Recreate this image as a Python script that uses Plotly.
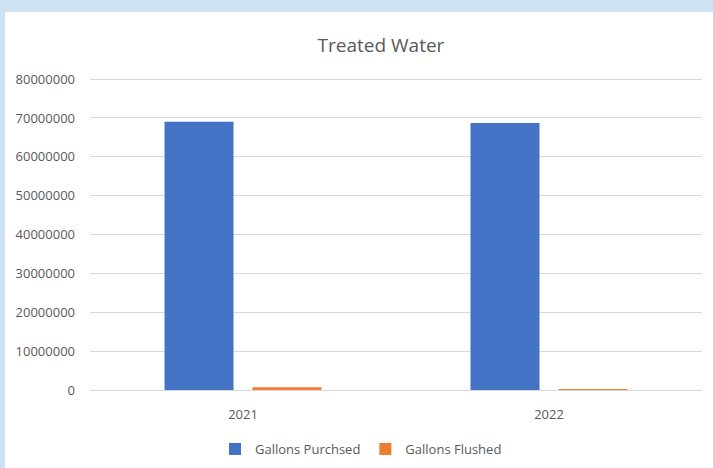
import plotly.graph_objects as go

years = ["2021", "2022"]
gallons_purchased = [69000000, 68700000]
gallons_flushed = [700000, 120000]
y_ticks = [0, 10000000, 20000000, 30000000, 40000000, 50000000, 60000000, 70000000, 80000000]
y_tick_labels = [str(v) for v in y_ticks]

FONT = "Open Sans, Noto Sans, sans-serif"
GRAY = "#595959"

fig = go.Figure()
fig.add_trace(go.Bar(name="Gallons Purchsed", x=years, y=gallons_purchased,
                     marker=dict(color="#4472C4", line=dict(width=0))))
fig.add_trace(go.Bar(name="Gallons Flushed", x=years, y=gallons_flushed,
                     marker=dict(color="#ED7D31", line=dict(width=0))))

L, R, T, B = 90, 11, 76, 78
W, H = 713, 468
pw = W - L - R
ph = H - T - B
Y_MAX = 80800000

def px_x(px):
    return (px - L) / pw

def px_y(py):
    return (H - B - py) / ph

fig.add_shape(type="rect", xref="paper", yref="paper", layer="below",
              x0=px_x(5), x1=px_x(720), y0=px_y(480), y1=px_y(12),
              fillcolor="white", line=dict(width=0))

fig.update_layout(
    width=W, height=H,
    margin=dict(l=L, r=R, t=T, b=B, pad=0, autoexpand=False),
    paper_bgcolor="#CFE2F3",
    plot_bgcolor="rgba(0,0,0,0)",
    barmode="group",
    bargap=0.425,
    bargroupgap=0.216,
    title=dict(text="Treated Water", x=381 / W, xanchor="center",
               y=1 - 45 / H, yanchor="middle",
               font=dict(family=FONT, size=19, color=GRAY)),
    font=dict(family=FONT, size=13, color=GRAY),
    showlegend=True,
    legend=dict(orientation="h", x=px_x(361), xanchor="center", y=px_y(449), yanchor="middle",
                font=dict(family=FONT, size=13, color=GRAY), bgcolor="rgba(0,0,0,0)",
                itemwidth=30),
    xaxis=dict(showgrid=False, showline=True, linecolor="#d9d9d9", linewidth=1,
               ticks="", ticklabelstandoff=12,
               tickfont=dict(family=FONT, size=13, color=GRAY)),
    yaxis=dict(range=[0, Y_MAX], tickvals=y_ticks, ticktext=y_tick_labels,
               showgrid=True, gridcolor="#d9d9d9", gridwidth=1,
               zeroline=True, zerolinecolor="#d9d9d9", zerolinewidth=1,
               showline=False, ticks="", ticklabelstandoff=14,
               tickfont=dict(family=FONT, size=13, color=GRAY)),
)

post = ("document.documentElement.style.overflow='hidden';"
        "document.body.style.margin='0';"
        "document.body.style.overflow='hidden';")
fig.write_html("out.html", post_script=post, config={"displayModeBar": False})
